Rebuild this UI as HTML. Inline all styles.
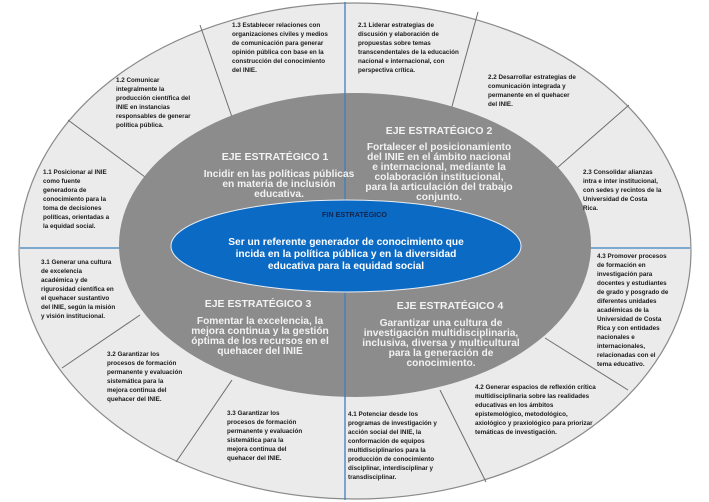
<!DOCTYPE html>
<html><head><meta charset="utf-8"><style>
html,body{margin:0;padding:0;background:#fff;width:709px;height:502px;overflow:hidden}
svg{display:block}
.s{font-family:"Liberation Sans",sans-serif;font-size:6.3px;font-weight:bold;fill:#1a1a1a}
.t{font-family:"Liberation Sans",sans-serif;font-size:10.5px;font-weight:bold;fill:#f2f2f2;text-anchor:middle}
.b{font-family:"Liberation Sans",sans-serif;font-size:10.2px;font-weight:bold;fill:#f2f2f2;text-anchor:middle}
</style></head><body>
<svg width="709" height="502" viewBox="0 0 709 502">
<ellipse cx="355" cy="251" rx="336" ry="248" fill="#ebebeb" stroke="#8a8a8a" stroke-width="1.2"/>
<g stroke="#6e6e6e" stroke-width="1">
<line x1="68" y1="120" x2="145" y2="177"/>
<line x1="200" y1="25" x2="232" y2="117"/>
<line x1="478" y1="12" x2="451" y2="110"/>
<line x1="629" y1="105" x2="557" y2="168"/>
<line x1="62" y1="368" x2="140" y2="315"/>
<line x1="176" y1="462" x2="232" y2="380"/>
<line x1="440" y1="390" x2="486" y2="482"/>
<line x1="545" y1="338" x2="628" y2="390"/>
</g>
<line x1="345" y1="2" x2="345" y2="500" stroke="#3d7fc0" stroke-width="1.3"/>
<line x1="20" y1="248" x2="690" y2="248" stroke="#3d7fc0" stroke-width="1.3"/>
<ellipse cx="355" cy="245" rx="236" ry="152" fill="#8c8c8c"/>
<line x1="345" y1="93" x2="345" y2="397" stroke="#3d7fc0" stroke-width="1.3"/>
<ellipse cx="346" cy="246" rx="175" ry="46" fill="#0b6ac4" stroke="#e8eef5" stroke-width="1"/>
<text x="322" y="217" class="s" style="font-size:7.2px;fill:#16254a">FIN ESTRATÉGICO</text>
<text class="b" style="fill:#fff"><tspan x="346" y="245">Ser un referente generador de conocimiento que</tspan><tspan x="346" y="257">incida en la política pública y en la diversidad</tspan><tspan x="346" y="269">educativa para la equidad social</tspan></text>

<text class="t" x="275" y="160">EJE ESTRATÉGICO 1</text>
<text class="b"><tspan x="279" y="177">Incidir en las políticas públicas</tspan><tspan x="279" y="187">en materia de inclusión</tspan><tspan x="279" y="197">educativa.</tspan></text>
<text class="t" x="439" y="134">EJE ESTRATÉGICO 2</text>
<text class="b"><tspan x="439" y="150">Fortalecer el posicionamiento</tspan><tspan x="439" y="160">del INIE en el ámbito nacional</tspan><tspan x="439" y="170">e internacional, mediante la</tspan><tspan x="439" y="180">colaboración institucional,</tspan><tspan x="439" y="190">para la articulación del trabajo</tspan><tspan x="439" y="200">conjunto.</tspan></text>
<text class="t" x="258" y="307">EJE ESTRATÉGICO 3</text>
<text class="b"><tspan x="260" y="324">Fomentar la excelencia, la</tspan><tspan x="260" y="334">mejora continua y la gestión</tspan><tspan x="260" y="344">óptima de los recursos en el</tspan><tspan x="260" y="354">quehacer del INIE</tspan></text>
<text class="t" x="450" y="309">EJE ESTRATÉGICO 4</text>
<text class="b"><tspan x="441" y="326">Garantizar una cultura de</tspan><tspan x="441" y="336">investigación multidisciplinaria,</tspan><tspan x="441" y="346">inclusiva, diversa y multicultural</tspan><tspan x="441" y="356">para la generación de</tspan><tspan x="441" y="366">conocimiento.</tspan></text>

<text class="s"><tspan x="232" y="27">1.3 Establecer relaciones con</tspan><tspan x="232" y="36">organizaciones civiles y medios</tspan><tspan x="232" y="45">de comunicación para generar</tspan><tspan x="232" y="54">opinión pública con base en la</tspan><tspan x="232" y="63">construcción del conocimiento</tspan><tspan x="232" y="72">del INIE.</tspan></text>
<text class="s"><tspan x="116" y="82">1.2 Comunicar</tspan><tspan x="116" y="91">integralmente la</tspan><tspan x="116" y="100">producción científica del</tspan><tspan x="116" y="109">INIE en instancias</tspan><tspan x="116" y="118">responsables de generar</tspan><tspan x="116" y="127">política pública.</tspan></text>
<text class="s"><tspan x="43" y="174">1.1 Posicionar al INIE</tspan><tspan x="43" y="183">como fuente</tspan><tspan x="43" y="192">generadora de</tspan><tspan x="43" y="201">conocimiento para la</tspan><tspan x="43" y="210">toma de decisiones</tspan><tspan x="43" y="219">políticas, orientadas a</tspan><tspan x="43" y="228">la equidad social.</tspan></text>
<text class="s"><tspan x="358" y="27">2.1 Liderar estrategias de</tspan><tspan x="358" y="36">discusión y elaboración de</tspan><tspan x="358" y="45">propuestas sobre temas</tspan><tspan x="358" y="54">transcendentales de la educación</tspan><tspan x="358" y="63">nacional e internacional, con</tspan><tspan x="358" y="72">perspectiva crítica.</tspan></text>
<text class="s"><tspan x="488" y="79">2.2 Desarrollar estrategias de</tspan><tspan x="488" y="88">comunicación integrada y</tspan><tspan x="488" y="97">permanente en el quehacer</tspan><tspan x="488" y="106">del INIE.</tspan></text>
<text class="s"><tspan x="583" y="174">2.3 Consolidar alianzas</tspan><tspan x="583" y="183">intra e inter institucional,</tspan><tspan x="583" y="192">con sedes y recintos de la</tspan><tspan x="583" y="201">Universidad de Costa</tspan><tspan x="583" y="210">Rica.</tspan></text>
<text class="s"><tspan x="41" y="264">3.1 Generar una cultura</tspan><tspan x="41" y="273">de excelencia</tspan><tspan x="41" y="282">académica y de</tspan><tspan x="41" y="291">rigurosidad científica en</tspan><tspan x="41" y="300">el quehacer sustantivo</tspan><tspan x="41" y="309">del INIE, según la misión</tspan><tspan x="41" y="318">y visión institucional.</tspan></text>
<text class="s"><tspan x="107" y="356">3.2 Garantizar los</tspan><tspan x="107" y="365">procesos de formación</tspan><tspan x="107" y="374">permanente y evaluación</tspan><tspan x="107" y="383">sistemática para la</tspan><tspan x="107" y="392">mejora continua del</tspan><tspan x="107" y="401">quehacer del INIE.</tspan></text>
<text class="s"><tspan x="227" y="415">3.3 Garantizar los</tspan><tspan x="227" y="424">procesos de formación</tspan><tspan x="227" y="433">permanente y evaluación</tspan><tspan x="227" y="442">sistemática para la</tspan><tspan x="227" y="451">mejora continua del</tspan><tspan x="227" y="460">quehacer del INIE.</tspan></text>
<text class="s"><tspan x="348" y="416">4.1 Potenciar desde los</tspan><tspan x="348" y="425">programas de investigación y</tspan><tspan x="348" y="434">acción social del INIE, la</tspan><tspan x="348" y="443">conformación de equipos</tspan><tspan x="348" y="452">multidisciplinarios para la</tspan><tspan x="348" y="461">producción de conocimiento</tspan><tspan x="348" y="470">disciplinar, interdisciplinar y</tspan><tspan x="348" y="479">transdisciplinar.</tspan></text>
<text class="s"><tspan x="475" y="389">4.2 Generar espacios de reflexión crítica</tspan><tspan x="475" y="398">multidisciplinaria sobre las realidades</tspan><tspan x="475" y="407">educativas en los ámbitos</tspan><tspan x="475" y="416">epistemológico, metodológico,</tspan><tspan x="475" y="425">axiológico y  praxiológico para priorizar</tspan><tspan x="475" y="434">temáticas de investigación.</tspan></text>
<text class="s"><tspan x="597" y="258">4.3 Promover procesos</tspan><tspan x="597" y="267">de formación en</tspan><tspan x="597" y="276">investigación para</tspan><tspan x="597" y="285">docentes y estudiantes</tspan><tspan x="597" y="294">de grado y posgrado de</tspan><tspan x="597" y="303">diferentes unidades</tspan><tspan x="597" y="312">académicas de la</tspan><tspan x="597" y="321">Universidad de Costa</tspan><tspan x="597" y="330">Rica y con entidades</tspan><tspan x="597" y="339">nacionales e</tspan><tspan x="597" y="348">internacionales,</tspan><tspan x="597" y="357">relacionadas con el</tspan><tspan x="597" y="366">tema educativo.</tspan></text>
</svg>
</body></html>
